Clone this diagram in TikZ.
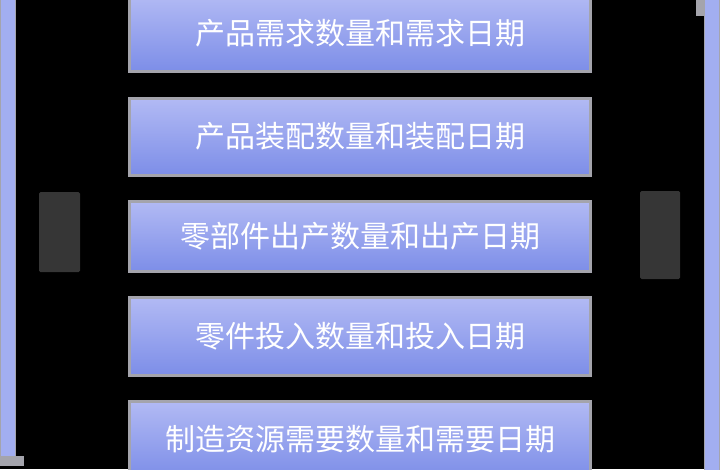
\documentclass[tikz,border=0pt]{standalone}
\usepackage{fontspec}
\newfontfamily\cjk{Noto Sans CJK SC}
\definecolor{boxtop}{HTML}{B2BAF4}
\definecolor{boxbot}{HTML}{7D8EE8}
\definecolor{edgegray}{HTML}{A4A4AC}
\definecolor{barblue}{HTML}{A2AEF0}
\definecolor{labgray}{HTML}{363636}
\tikzset{
  levelbox/.style={draw=edgegray, line width=3pt, top color=boxtop, bottom color=boxbot,
    minimum width=461pt, text=white, font=\cjk\fontsize{30}{36}\selectfont, inner sep=0pt},
  sidebar/.style={draw=edgegray, line width=1pt, fill=barblue, inner sep=0pt, minimum width=15pt},
  sidelabel/.style={fill=labgray, rounded corners=1.5pt, inner sep=0pt}
}
\begin{document}
\begin{tikzpicture}[x=1pt,y=-1pt]
\fill[black] (0,0) rectangle (720,469);
\useasboundingbox (0,0) rectangle (720,469);
\node[levelbox, minimum height=76pt] (b1) at (360,33) {\raisebox{-2pt}{产品需求数量和需求日期}};
\node[levelbox, minimum height=77pt] (b2) at (360,136.5) {\raisebox{-2pt}{产品装配数量和装配日期}};
\node[levelbox, minimum height=70pt] (b3) at (360,236) {\raisebox{-2pt}{零部件出产数量和出产日期}};
\node[levelbox, minimum height=78pt] (b4) at (360,336) {\raisebox{-2pt}{零件投入数量和投入日期}};
\node[levelbox, minimum height=76pt] (b5) at (360,439) {\raisebox{-2pt}{制造资源需要数量和需要日期}};
\node[sidebar, minimum height=462pt] (lbar) at (8,229) {};
\node[sidebar, minimum height=480pt] (rbar) at (712,234) {};
\fill[edgegray] (0,456) rectangle (24,466);
\fill[edgegray] (696,0) rectangle (704,16);
\node[sidelabel, minimum width=41pt, minimum height=80pt] (llab) at (59.5,232) {};
\node[sidelabel, minimum width=40pt, minimum height=88pt] (rlab) at (660,235) {};
\end{tikzpicture}
\end{document}
